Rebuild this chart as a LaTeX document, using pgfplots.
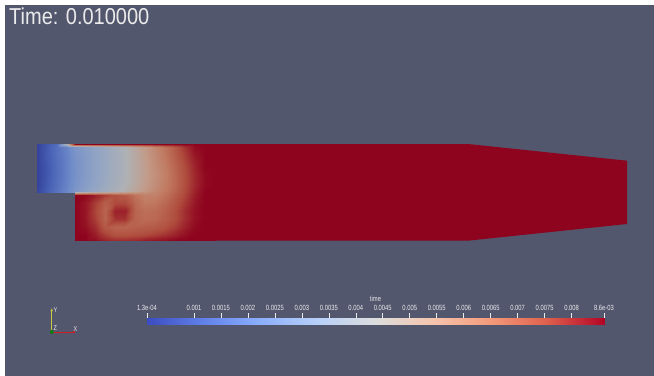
\documentclass[border=0pt]{standalone}
\usepackage{pgfplots}
\pgfplotsset{compat=1.18}
\usepackage{fontspec}
\setmainfont{Liberation Sans}
\newfontfamily\pvfont[FakeStretch=0.87]{Liberation Sans}
\newfontfamily\pvsmall[FakeStretch=0.78]{Liberation Sans}
\usetikzlibrary{arrows.meta}
\definecolor{bg}{RGB}{82,87,110}
\definecolor{fieldred}{RGB}{142,3,30}
\definecolor{lbl}{RGB}{235,235,235}
\definecolor{triy}{RGB}{200,200,60}
\definecolor{trix}{RGB}{210,30,30}
\definecolor{triz}{RGB}{0,130,0}
\pgfplotsset{
 colormap={cwlit}{rgb255=(47,60,152) rgb255=(77,103,185) rgb255=(111,139,201) rgb255=(145,164,197) rgb255=(175,177,180) rgb255=(194,155,137) rgb255=(193,122,97) rgb255=(175,76,61) rgb255=(142,3,30)},
 colormap={cw}{rgb255=(59,76,192) rgb255=(98,130,234) rgb255=(141,176,254) rgb255=(184,208,249) rgb255=(221,221,221) rgb255=(245,196,173) rgb255=(244,154,123) rgb255=(222,96,77) rgb255=(180,4,38)},
}
\begin{document}
\begin{tikzpicture}
\begin{axis}[name=main, at={(0,0)}, anchor=south west, scale only axis,
  width=654bp, height=376bp, xmin=0, xmax=654, ymin=0, ymax=376,
  y dir=reverse, hide axis, point meta min=0, point meta max=1]
% background
\addplot[fill=white, draw=none] coordinates {(0,0) (654,0) (654,376) (0,376)} -- cycle;
\addplot[fill=bg, draw=none] coordinates {(5,5) (654,5) (654,376) (5,376)} -- cycle;
% domain
\addplot[fill=fieldred, draw=none] coordinates {(75,144) (468,144) (627,160.7) (627,224) (468,240.7) (75,240.7)} -- cycle;
% inlet field
\addplot[surf, shader=interp, colormap name=cwlit, mesh/cols=5, point meta=explicit] coordinates {
(37,144)[0.02] (47,144)[0.08] (57,144)[0.15] (67,144)[0.5] (75,144)[1]
(37,146.5)[0.02] (47,146.5)[0.09] (57,146.5)[0.16] (67,146.5)[0.23] (75,146.5)[0.30]
(37,155)[0.02] (47,155)[0.09] (57,155)[0.16] (67,155)[0.22] (75,155)[0.29]
(37,165)[0.02] (47,165)[0.08] (57,165)[0.15] (67,165)[0.22] (75,165)[0.28]
(37,175)[0.02] (47,175)[0.08] (57,175)[0.15] (67,175)[0.22] (75,175)[0.28]
(37,185)[0.02] (47,185)[0.09] (57,185)[0.16] (67,185)[0.23] (75,185)[0.29]
(37,192)[0.03] (47,192)[0.10] (57,192)[0.17] (67,192)[0.24] (75,192)[0.31]
};
% main channel field near the jet
\addplot[surf, shader=interp, colormap name=cwlit, mesh/cols=15, point meta=explicit] coordinates {
(75,144)[1] (85,144)[1] (95,144)[1] (105,144)[1] (115,144)[1] (125,144)[1] (135,144)[1] (145,144)[1] (155,144)[1] (165,144)[1] (175,144)[1] (185,144)[1] (195,144)[1] (205,144)[1] (215,144)[1]
(75,146.5)[0.30] (85,146.5)[0.34] (95,146.5)[0.38] (105,146.5)[0.42] (115,146.5)[0.46] (125,146.5)[0.50] (135,146.5)[0.56] (145,146.5)[0.63] (155,146.5)[0.70] (165,146.5)[0.77] (175,146.5)[0.84] (185,146.5)[0.92] (195,146.5)[0.99] (205,146.5)[1] (215,146.5)[1]
(75,155)[0.29] (85,155)[0.33] (95,155)[0.37] (105,155)[0.41] (115,155)[0.45] (125,155)[0.49] (135,155)[0.55] (145,155)[0.62] (155,155)[0.69] (165,155)[0.76] (175,155)[0.83] (185,155)[0.90] (195,155)[0.97] (205,155)[1] (215,155)[1]
(75,165)[0.28] (85,165)[0.33] (95,165)[0.37] (105,165)[0.41] (115,165)[0.45] (125,165)[0.49] (135,165)[0.55] (145,165)[0.61] (155,165)[0.68] (165,165)[0.74] (175,165)[0.81] (185,165)[0.88] (195,165)[0.95] (205,165)[1] (215,165)[1]
(75,175)[0.28] (85,175)[0.33] (95,175)[0.37] (105,175)[0.41] (115,175)[0.45] (125,175)[0.49] (135,175)[0.55] (145,175)[0.61] (155,175)[0.67] (165,175)[0.73] (175,175)[0.80] (185,175)[0.87] (195,175)[0.94] (205,175)[0.99] (215,175)[1]
(75,185)[0.29] (85,185)[0.34] (95,185)[0.38] (105,185)[0.42] (115,185)[0.46] (125,185)[0.50] (135,185)[0.56] (145,185)[0.62] (155,185)[0.68] (165,185)[0.74] (175,185)[0.80] (185,185)[0.87] (195,185)[0.94] (205,185)[0.99] (215,185)[1]
(75,191)[0.31] (85,191)[0.36] (95,191)[0.40] (105,191)[0.44] (115,191)[0.48] (125,191)[0.52] (135,191)[0.58] (145,191)[0.64] (155,191)[0.70] (165,191)[0.75] (175,191)[0.81] (185,191)[0.88] (195,191)[0.95] (205,191)[1] (215,191)[1]
(75,195)[1] (85,195)[0.99] (95,195)[0.95] (105,195)[0.90] (115,195)[0.86] (125,195)[0.83] (135,195)[0.77] (145,195)[0.72] (155,195)[0.73] (165,195)[0.77] (175,195)[0.83] (185,195)[0.89] (195,195)[0.96] (205,195)[1] (215,195)[1]
(75,203)[1] (85,203)[0.97] (95,203)[0.90] (105,203)[0.82] (115,203)[0.88] (125,203)[0.88] (135,203)[0.80] (145,203)[0.75] (155,203)[0.76] (165,203)[0.80] (175,203)[0.85] (185,203)[0.91] (195,203)[0.97] (205,203)[1] (215,203)[1]
(75,211)[1] (85,211)[0.97] (95,211)[0.89] (105,211)[0.81] (115,211)[0.95] (125,211)[0.95] (135,211)[0.81] (145,211)[0.78] (155,211)[0.79] (165,211)[0.82] (175,211)[0.87] (185,211)[0.93] (195,211)[0.98] (205,211)[1] (215,211)[1]
(75,219)[1] (85,219)[0.97] (95,219)[0.90] (105,219)[0.81] (115,219)[0.92] (125,219)[0.92] (135,219)[0.81] (145,219)[0.79] (155,219)[0.80] (165,219)[0.83] (175,219)[0.87] (185,219)[0.93] (195,219)[0.98] (205,219)[1] (215,219)[1]
(75,227)[1] (85,227)[0.98] (95,227)[0.93] (105,227)[0.84] (115,227)[0.81] (125,227)[0.81] (135,227)[0.82] (145,227)[0.83] (155,227)[0.84] (165,227)[0.86] (175,227)[0.90] (185,227)[0.95] (195,227)[0.99] (205,227)[1] (215,227)[1]
(75,235)[1] (85,235)[1] (95,235)[0.96] (105,235)[0.90] (115,235)[0.86] (125,235)[0.86] (135,235)[0.87] (145,235)[0.88] (155,235)[0.90] (165,235)[0.92] (175,235)[0.95] (185,235)[0.98] (195,235)[1] (205,235)[1] (215,235)[1]
(75,240.7)[1] (85,240.7)[1] (95,240.7)[0.99] (105,240.7)[0.96] (115,240.7)[0.94] (125,240.7)[0.94] (135,240.7)[0.95] (145,240.7)[0.97] (155,240.7)[0.98] (165,240.7)[0.99] (175,240.7)[1] (185,240.7)[1] (195,240.7)[1] (205,240.7)[1] (215,240.7)[1]
};
% orientation triad
\addplot[triy, line width=1bp, -{Latex[length=3bp,width=2.6bp]}] coordinates {(51.7,332) (51.7,308)};
\addplot[trix, line width=1bp, -{Latex[length=3bp,width=2.6bp]}] coordinates {(51.7,332) (76,332)};
\addplot[only marks, mark=*, mark size=1.8bp, triz] coordinates {(51.7,332)};
\node[anchor=base west, inner sep=0, text=lbl, font=\pvsmall\fontsize{7bp}{8bp}\selectfont] at (axis cs:53.5,312) {Y};
\node[anchor=base west, inner sep=0, text=lbl, font=\pvsmall\fontsize{7bp}{8bp}\selectfont] at (axis cs:53.5,330.5) {Z};
\node[anchor=base west, inner sep=0, text=lbl, font=\pvsmall\fontsize{7bp}{8bp}\selectfont] at (axis cs:73.5,331.5) {X};
% title
\node[anchor=base west, inner sep=0, text=lbl, font=\pvfont\fontsize{23bp}{27bp}\selectfont] at (axis cs:9,25) {Time: 0.010000};
\end{axis}
% colour bar
\begin{axis}[at={(147bp,51bp)}, anchor=south west, scale only axis,
  width=457bp, height=7.3bp, xmin=0.00013, xmax=0.0086, ymin=0, ymax=1,
  axis x line*=top, axis y line=none, x axis line style={draw=none},
  xtick={0.001,0.0015,0.002,0.0025,0.003,0.0035,0.004,0.0045,0.005,0.0055,0.006,0.0065,0.007,0.0075,0.008},
  xticklabels={0.001,0.0015,0.002,0.0025,0.003,0.0035,0.004,0.0045,0.005,0.0055,0.006,0.0065,0.007,0.0075,0.008},
  extra x ticks={0.00013,0.0086}, extra x tick labels={1.3e-04,8.6e-03},
  tick align=outside, major tick length=4.5bp,
  every tick/.style={draw=lbl, line width=0.6bp},
  x tick label style={text=lbl, font=\pvsmall\fontsize{7.5bp}{8bp}\selectfont, inner sep=2bp},
  scaled x ticks=false, point meta min=0, point meta max=1, clip=false]
\addplot[surf, shader=interp, colormap name=cw, mesh/cols=9, point meta=explicit] coordinates {
(0.00013,0)[0] (0.0011888,0)[0.125] (0.0022475,0)[0.25] (0.0033063,0)[0.375] (0.004365,0)[0.5] (0.0054238,0)[0.625] (0.0064825,0)[0.75] (0.0075413,0)[0.875] (0.0086,0)[1]
(0.00013,1)[0] (0.0011888,1)[0.125] (0.0022475,1)[0.25] (0.0033063,1)[0.375] (0.004365,1)[0.5] (0.0054238,1)[0.625] (0.0064825,1)[0.75] (0.0075413,1)[0.875] (0.0086,1)[1]
};
\node[anchor=base, inner sep=0, text=lbl, font=\pvsmall\fontsize{7.5bp}{8bp}\selectfont] at (rel axis cs:0.5,1) [yshift=16bp] {time};
\end{axis}
\end{tikzpicture}
\end{document}
